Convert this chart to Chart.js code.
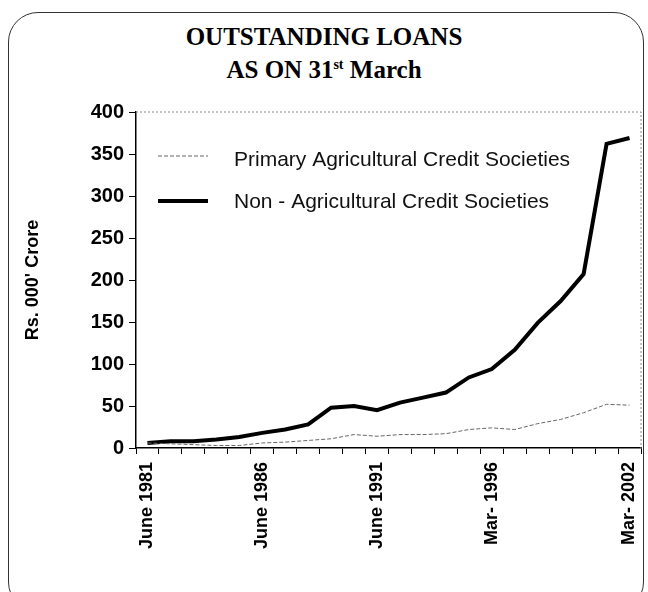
<!DOCTYPE html>
<html>
<head>
<meta charset="utf-8">
<script src="https://cdn.jsdelivr.net/npm/chart.js@4"></script>
<style>
  html, body { margin: 0; padding: 0; background: #fff; }
  #wrap { position: relative; width: 648px; height: 592px; overflow: hidden; }
  #card {
    position: absolute; left: 8px; top: 12px; width: 636px; height: 600px;
    border: 1.5px solid #333; border-radius: 30px; box-sizing: border-box;
  }
  #title {
    position: absolute; left: 0; width: 648px; top: 20px; text-align: center;
    font-family: "Liberation Serif", "Times New Roman", serif; font-weight: bold;
    font-size: 25px; line-height: 33px; color: #000;
  }
  #title sup { font-size: 14px; vertical-align: 9px; line-height: 0; }
  canvas { position: absolute; left: 0; top: 0; }
</style>
</head>
<body>
<div id="wrap">
  <div id="card"></div>
  <div id="title">OUTSTANDING LOANS<br>AS ON 31<sup>st</sup> March</div>
  <canvas id="loan-chart" width="648" height="592"></canvas>
</div>
<script>
const years = ['June 1981', '', '', '', '', 'June 1986', '', '', '', '', 'June 1991',
  '', '', '', '', 'Mar- 1996', '', '', '', '', '', 'Mar- 2002'];
const primaryAgri = [6, 5, 4, 3, 3, 6, 7, 9, 11, 16, 14, 16, 16, 17, 22, 24, 22, 29, 34, 42, 52, 51];
const nonAgri = [6, 8, 8, 10, 13, 18, 22, 28, 48, 50, 45, 54, 60, 66, 84, 94, 117, 149, 175, 207, 362, 369];
const yTicks = [0, 50, 100, 150, 200, 250, 300, 350, 400];

const fontFam = '"Liberation Sans", Arial, sans-serif';

// legend drawn inside the plot, plus the dotted top/right frame
const innerLegend = {
  id: 'innerLegend',
  afterDatasetsDraw(chart) {
    const { ctx, chartArea } = chart;
    ctx.save();
    ctx.font = '21px ' + fontFam;
    ctx.textBaseline = 'middle';
    chart.data.datasets.forEach((ds, i) => {
      const y = chartArea.top + 44 + i * 45;
      const x = chartArea.left + 22;
      ctx.strokeStyle = ds.borderColor;
      ctx.lineWidth = ds.borderWidth;
      ctx.setLineDash(ds.borderDash || []);
      ctx.beginPath();
      ctx.moveTo(x, y);
      ctx.lineTo(x + 50, y);
      ctx.stroke();
      ctx.setLineDash([]);
      ctx.fillStyle = '#111';
      ctx.fillText(ds.label, x + 76, y + (i === 0 ? 4 : 1));
    });
    const yTop = chart.scales.y.getPixelForValue(400);
    ctx.strokeStyle = '#888';
    ctx.lineWidth = 1;
    ctx.setLineDash([2, 2]);
    ctx.beginPath();
    ctx.moveTo(chartArea.left, yTop);
    ctx.lineTo(chartArea.right, yTop);
    ctx.lineTo(chartArea.right, chartArea.bottom);
    ctx.stroke();
    ctx.restore();
  }
};

new Chart(document.getElementById('loan-chart'), {
  type: 'line',
  data: {
    labels: years,
    datasets: [
      {
        label: 'Primary Agricultural Credit Societies',
        data: primaryAgri,
        borderColor: '#666',
        borderWidth: 1,
        borderDash: [4, 2],
        pointRadius: 0,
        tension: 0
      },
      {
        label: 'Non - Agricultural Credit Societies',
        data: nonAgri,
        borderColor: '#000',
        borderWidth: 4,
        pointRadius: 0,
        tension: 0
      }
    ]
  },
  options: {
    responsive: false,
    animation: false,
    layout: { padding: { top: 112, right: 7, left: 0, bottom: 0 } },
    plugins: {
      legend: { display: false },
      tooltip: { enabled: false }
    },
    scales: {
      x: {
        offset: true,
        grid: { offset: true, drawOnChartArea: false, tickLength: 6, tickColor: '#000' },
        border: { color: '#000', width: 1.5 },
        ticks: {
          autoSkip: false, maxRotation: 90, minRotation: 90, padding: 8,
          color: '#000', font: { family: fontFam, size: 18, weight: 'bold' }
        },
        afterFit(scale) {
          scale.height = 144;
          scale.paddingLeft = 0;
          scale.paddingRight = 0;
        }
      },
      y: {
        min: 0, max: 400,
        afterBuildTicks(scale) { scale.ticks = yTicks.map(v => ({ value: v })); },
        grid: { drawOnChartArea: false, tickLength: 7, tickColor: '#000' },
        border: { color: '#000', width: 1.5 },
        ticks: { color: '#000', font: { family: fontFam, size: 20, weight: 'bold' }, padding: 5 },
        title: {
          display: true, text: "Rs. 000' Crore", color: '#000',
          font: { family: fontFam, size: 18, weight: 'bold' }, padding: { top: 22, bottom: 0 }
        },
        afterFit(scale) { scale.width = 136; }
      }
    }
  },
  plugins: [innerLegend]
});
</script>
</body>
</html>
